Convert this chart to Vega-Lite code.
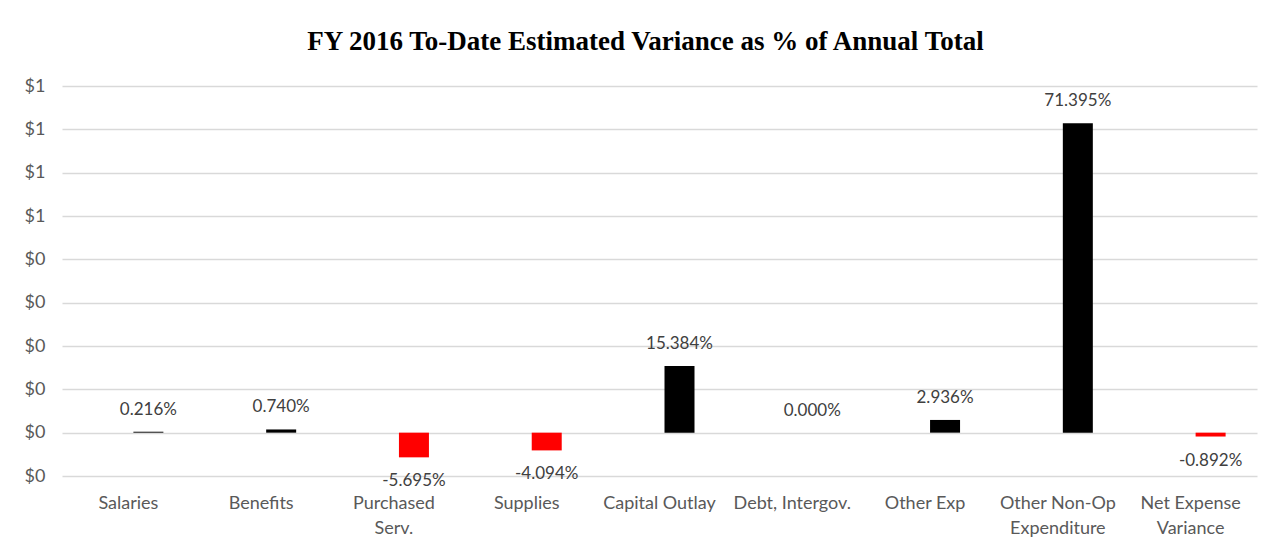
{
  "$schema": "https://vega.github.io/schema/vega-lite/v6.json",
  "autosize": "none",
  "width": 1195,
  "height": 390,
  "padding": {"left": 62, "top": 86, "right": 23, "bottom": 79},
  "background": "#ffffff",
  "title": {
    "text": "FY 2016 To-Date Estimated Variance as % of Annual Total",
    "font": "Liberation Serif",
    "fontSize": 27,
    "fontWeight": "bold",
    "color": "#000000",
    "anchor": "middle",
    "dx": -14,
    "offset": 21
  },
  "config": {
    "view": {"stroke": null},
    "locale": {"number": {"decimal": ".", "thousands": ",", "grouping": [3], "currency": ["$", ""], "minus": "-"}}
  },
  "data": {
    "values": [
      {"category": "Salaries", "v": 0.00216},
      {"category": "Benefits", "v": 0.0074},
      {"category": "Purchased|Serv.", "v": -0.05695},
      {"category": "Supplies", "v": -0.04094},
      {"category": "Capital Outlay", "v": 0.15384},
      {"category": "Debt, Intergov.", "v": 0.0},
      {"category": "Other Exp", "v": 0.02936},
      {"category": "Other Non-Op|Expenditure", "v": 0.71395},
      {"category": "Net Expense|Variance", "v": -0.00892}
    ]
  },
  "encoding": {
    "x": {
      "field": "category",
      "type": "nominal",
      "sort": null,
      "scale": {"paddingInner": 0, "paddingOuter": 0},
      "axis": {
        "title": null,
        "labelAngle": 0,
        "domain": false,
        "ticks": false,
        "labelExpr": "split(datum.label, '|')",
        "labelFont": "Lato",
        "labelFontSize": 18,
        "labelColor": "#595959",
        "labelPadding": 18,
        "labelLineHeight": 25,
        "labelBaseline": "top"
      }
    },
    "y": {
      "field": "v",
      "type": "quantitative",
      "scale": {"domain": [-0.1, 0.8], "nice": false, "zero": false},
      "axis": {
        "title": null,
        "values": [-0.1, 0, 0.1, 0.2, 0.3, 0.4, 0.5, 0.6, 0.7, 0.8],
        "format": "$.0f",
        "domain": false,
        "ticks": false,
        "gridColor": "#d9d9d9",
        "gridWidth": 1.3,
        "labelFont": "Lato",
        "labelFontSize": 18,
        "labelColor": "#595959",
        "labelPadding": 17
      }
    }
  },
  "layer": [
    {
      "mark": {"type": "bar", "width": 30, "xOffset": 20},
      "encoding": {
        "color": {
          "condition": {"test": "datum.v < 0", "value": "#ff0000"},
          "value": "#000000"
        }
      }
    },
    {
      "transform": [{"filter": "datum.v >= 0"}],
      "mark": {"type": "text", "xOffset": 20, "dy": -22, "baseline": "middle", "font": "Lato", "fontSize": 17, "color": "#404040"},
      "encoding": {"text": {"field": "v", "type": "quantitative", "format": ".3%"}}
    },
    {
      "transform": [{"filter": "datum.v < 0"}],
      "mark": {"type": "text", "xOffset": 20, "dy": 24, "baseline": "middle", "font": "Lato", "fontSize": 17, "color": "#404040"},
      "encoding": {"text": {"field": "v", "type": "quantitative", "format": ".3%"}}
    }
  ]
}
